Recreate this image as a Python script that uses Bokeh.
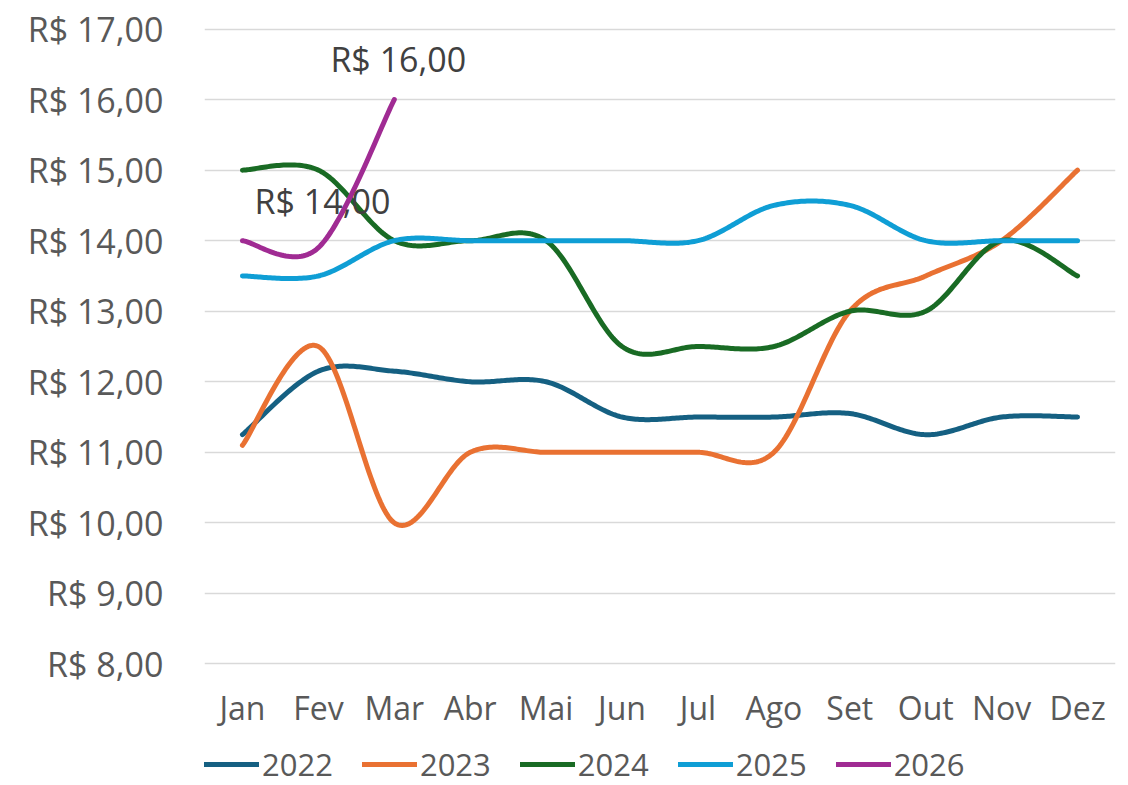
import numpy as np
from bokeh.plotting import figure
from bokeh.layouts import column
from bokeh.models import Legend, LegendItem, FixedTicker, Range1d, ColumnDataSource
from bokeh.embed import file_html
from bokeh.resources import INLINE
from bokeh.core.properties import value

# ---------------- data ----------------
months = ["Jan", "Fev", "Mar", "Abr", "Mai", "Jun", "Jul", "Ago", "Set", "Out", "Nov", "Dez"]
years = ["2022", "2023", "2024", "2025", "2026"]
v2022 = [11.25, 12.15, 12.15, 12.0, 12.0, 11.5, 11.5, 11.5, 11.55, 11.25, 11.5, 11.5]
v2023 = [11.1, 12.5, 10.0, 11.0, 11.0, 11.0, 11.0, 11.0, 13.0, 13.5, 14.0, 15.0]
v2024 = [15.0, 15.0, 14.0, 14.0, 14.0, 12.5, 12.5, 12.5, 13.0, 13.0, 14.0, 13.5]
v2025 = [13.5, 13.5, 14.0, 14.0, 14.0, 14.0, 14.0, 14.5, 14.5, 14.0, 14.0, 14.0]
v2026 = [14.0, 13.9, 16.0]
labelled_2026 = [0, 2]          # month indices of 2026 that carry a data label
y_ticks = [8, 9, 10, 11, 12, 13, 14, 15, 16, 17]

series = [v2022, v2023, v2024, v2025, v2026]
colors = ["#156082", "#E97132", "#196B24", "#0F9ED5", "#A02B93"]

FONT = "Open Sans"


def brl(v):
    return "R$ " + f"{v:.2f}".replace(".", ",")


def smooth(ys, n=40):
    """Excel-like smoothed line: cubic Bezier through the points (Catmull-Rom controls)."""
    xs = np.arange(len(ys), dtype=float)
    ys = np.asarray(ys, dtype=float)
    P = np.column_stack([xs, ys])
    out = [P[0]]
    for i in range(len(P) - 1):
        p0 = P[i - 1] if i > 0 else P[i]
        p1 = P[i]
        p2 = P[i + 1]
        p3 = P[i + 2] if i + 2 < len(P) else P[i + 1]
        c1 = p1 + (p2 - p0) / 6.0
        c2 = p2 - (p3 - p1) / 6.0
        t = np.linspace(0, 1, n)[1:, None]
        seg = ((1 - t) ** 3) * p1 + 3 * ((1 - t) ** 2) * t * c1 + 3 * (1 - t) * t ** 2 * c2 + t ** 3 * p2
        out.extend(seg)
    out = np.array(out)
    return out[:, 0], out[:, 1]


# ---------------- main figure ----------------
pad = 0.05
p = figure(frame_width=911, frame_height=642, output_backend="svg", toolbar_location=None,
           x_range=Range1d(-0.5, len(months) - 0.5),
           y_range=Range1d(min(y_ticks) - pad, max(y_ticks) + pad),
           min_border_left=204, min_border_right=5, min_border_top=25, min_border_bottom=75)
p.outline_line_color = None
p.background_fill_color = "white"
p.border_fill_color = "white"

p.xgrid.visible = False
p.ygrid.grid_line_color = "#D9D9D9"
p.ygrid.grid_line_width = 1.5

p.xaxis.ticker = FixedTicker(ticks=list(range(len(months))))
p.xaxis.major_label_overrides = {i: m for i, m in enumerate(months)}
p.yaxis.ticker = FixedTicker(ticks=y_ticks)
p.yaxis.major_label_overrides = {t: brl(t) for t in y_ticks}

for ax in (p.xaxis[0], p.yaxis[0]):
    ax.axis_line_color = None
    ax.major_tick_line_color = None
    ax.minor_tick_line_color = None
    ax.major_tick_out = 0
    ax.major_tick_in = 0
    ax.minor_tick_out = 0
    ax.major_label_text_font = FONT
    ax.major_label_text_color = "#595959"
p.yaxis.major_label_text_font_size = "34px"
p.xaxis.major_label_text_font_size = "32px"
p.yaxis.major_label_standoff = 41
p.xaxis.major_label_standoff = 18

for name, ys, col in zip(years, series, colors):
    sx, sy = smooth(ys)
    p.line(sx, sy, line_color=col, line_width=5, line_cap="round", line_join="round")

# data labels for 2026
lab_src = ColumnDataSource(dict(
    x=labelled_2026,
    y=[v2026[i] for i in labelled_2026],
    t=[brl(v2026[i]) for i in labelled_2026],
    dx=[80, 4],
    dy=[-40, -41],
))
p.text(x="x", y="y", text="t", source=lab_src, x_offset="dx", y_offset="dy",
       text_align="center", text_baseline="middle", text_font=value(FONT),
       text_font_size="34px", text_color="#404040")

# ---------------- legend strip ----------------
# the series are re-drawn here only as legend proxies: the y range keeps them out of view
lg = figure(width=1120, height=43, output_backend="svg", toolbar_location=None,
            x_range=Range1d(0, 1), y_range=Range1d(0, 1),
            x_axis_type=None, y_axis_type=None,
            min_border_left=0, min_border_right=0, min_border_top=0, min_border_bottom=0)
lg.outline_line_color = None
lg.xgrid.visible = False
lg.ygrid.visible = False

items = []
for name, ys, col in zip(years, series, colors):
    r = lg.line(x=list(range(len(ys))), y=ys, line_color=col, line_width=5, line_cap="round")
    items.append(LegendItem(label=name, renderers=[r]))

legend = Legend(items=items, orientation="horizontal", location=(0, 0))
legend.label_text_font = FONT
legend.label_text_font_size = "31px"
legend.label_text_line_height = 1.0
legend.label_text_color = "#595959"
legend.glyph_width = 55
legend.glyph_height = 28
legend.label_height = 28
legend.label_standoff = 3
legend.spacing = 29
legend.padding = 0
legend.margin = 0
legend.border_line_color = None
legend.background_fill_alpha = 0
lg.add_layout(legend, "center")

layout = column(p, lg, spacing=0)
open("out.html", "w").write(file_html(layout, INLINE))
